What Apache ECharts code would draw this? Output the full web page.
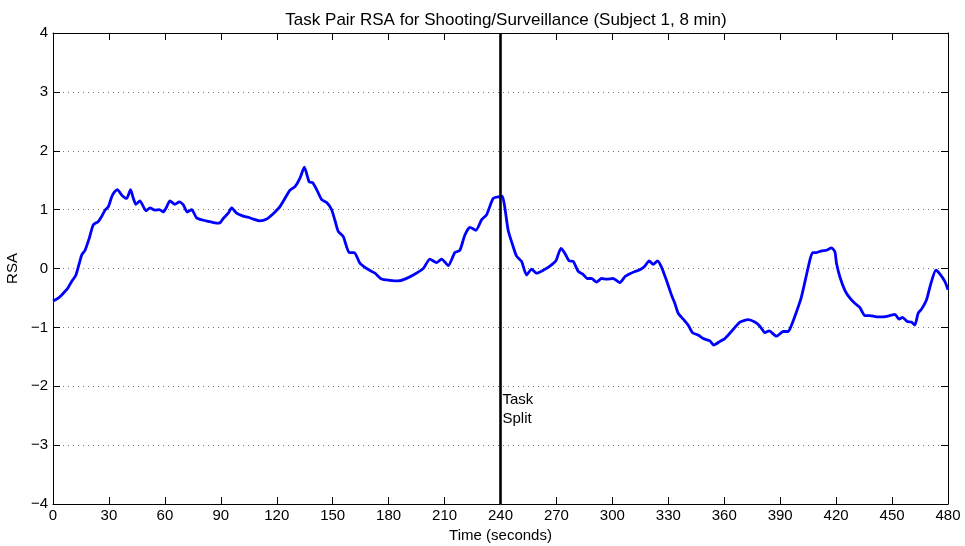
<!DOCTYPE html>
<html>
<head>
<meta charset="utf-8">
<script src="https://cdn.jsdelivr.net/npm/echarts@6/dist/echarts.min.js"></script>
<style>html,body{margin:0;padding:0;background:#fff}#c{width:965px;height:546px}</style>
</head>
<body>
<div id="c"></div>
<script>
var times = [0,2,4,6.4,8,10,12.3,15.4,17.2,19.5,21.6,24.3,26,27.9,29.7,31.5,33,34.5,36.8,39.5,41.6,43,44.5,46.6,49.9,52,54.7,57,59.2,61,62.7,65.4,67.7,69.9,72,74.4,77,80.6,83.3,86,89.2,91.3,94,95.8,98.5,102,104.7,107.4,111,114.6,118.1,121.7,127.1,129.8,132.4,134.8,137.4,139.2,141.4,144.1,146.8,149.4,151.2,153,155.7,158.9,161.6,164.6,168.2,172.7,176.2,180.7,185.1,188.7,193.2,198.6,202.1,205.7,208.4,212,215.5,218.2,220.9,223.6,226.8,229.9,232.5,236.1,239.7,241,242.4,244.1,246.8,248.6,251.3,254,256.7,259.3,262.9,266.5,269.7,272.4,274.5,276.8,279,281.7,284.3,286.5,288.8,291.5,294.2,296.9,300.4,304,306.7,309.4,312.1,314.7,317.4,319.7,321.9,324.2,326.4,329,331.7,333.5,335.3,338,340.6,343,346,348.7,352.3,354.4,357.6,360.3,363,368.4,372.8,376.4,379.1,381.8,384.1,388,391.6,394.3,396.1,398.8,401.4,404.1,405.9,407.4,409.5,412.2,414.8,417.5,419.3,420.2,422,424.7,427.3,430,432.7,435.4,438.1,441.7,445.3,448.8,451.5,453.8,455.6,458.1,460.4,462.2,464,465.8,468.5,470.6,473.5,475.6,478.3,480];
var rsa = [-0.55,-0.52,-0.47,-0.39,-0.33,-0.22,-0.11,0.23,0.31,0.52,0.74,0.80,0.88,0.99,1.05,1.22,1.30,1.34,1.25,1.19,1.34,1.20,1.09,1.15,0.98,1.03,0.99,1.00,0.96,1.05,1.15,1.09,1.13,1.08,0.96,1.00,0.86,0.82,0.80,0.78,0.77,0.85,0.94,1.03,0.94,0.89,0.87,0.84,0.81,0.84,0.93,1.05,1.33,1.39,1.53,1.72,1.47,1.46,1.34,1.17,1.12,1.00,0.82,0.63,0.54,0.27,0.27,0.09,0.0,-0.08,-0.18,-0.20,-0.21,-0.18,-0.11,0.0,0.16,0.10,0.16,0.05,0.27,0.31,0.57,0.70,0.65,0.83,0.91,1.19,1.22,1.23,1.02,0.65,0.37,0.21,0.12,-0.11,-0.01,-0.08,-0.03,0.04,0.13,0.34,0.26,0.13,0.12,-0.05,-0.10,-0.17,-0.17,-0.23,-0.17,-0.18,-0.17,-0.24,-0.14,-0.09,-0.05,-0.02,0.04,0.13,0.07,0.13,0.02,-0.20,-0.45,-0.59,-0.76,-0.86,-0.96,-1.09,-1.13,-1.19,-1.23,-1.30,-1.24,-1.19,-1.10,-0.91,-0.87,-0.91,-0.98,-1.09,-1.06,-1.15,-1.07,-1.07,-0.96,-0.73,-0.48,-0.11,0.14,0.27,0.27,0.30,0.31,0.35,0.29,0.09,-0.14,-0.37,-0.50,-0.59,-0.66,-0.80,-0.80,-0.82,-0.82,-0.80,-0.78,-0.86,-0.83,-0.90,-0.91,-0.96,-0.76,-0.69,-0.53,-0.28,-0.03,-0.09,-0.22,-0.36];
var splitTime = 240;
var splitLabel = 'Task\nSplit';
var splitLabelY = -2.4;
var titleText = 'Task Pair RSA for Shooting/Surveillance (Subject 1, 8 min)';
var xName = 'Time (seconds)';
var yName = 'RSA';

var FONT = '"Liberation Sans", Arial, Helvetica, sans-serif';
var chart = echarts.init(document.getElementById('c'), null, {renderer: 'canvas'});
var lineData = times.map(function (t, i) { return [t, rsa[i]]; });
var tickStyle = {show: true, inside: true, length: 7, lineStyle: {color: '#000', width: 1}};
var axisLine = {show: true, onZero: false, lineStyle: {color: '#000', width: 1}};
var minus = function (v) { return String(v).replace('-', '\u2212'); };

chart.setOption({
  animation: false,
  backgroundColor: '#fff',
  title: {
    text: titleText, left: 501, top: 7, textAlign: 'center',
    textStyle: {fontFamily: FONT, fontSize: 17, fontWeight: 'normal', color: '#000'}
  },
  grid: {left: 53, right: 17, top: 33, bottom: 42, outerBoundsMode: 'none', containLabel: false},
  xAxis: [{
    type: 'value', min: 0, max: 480, interval: 30, position: 'bottom',
    name: xName, nameLocation: 'middle', nameGap: 22,
    nameTextStyle: {fontFamily: FONT, fontSize: 15, color: '#000'},
    axisLine: axisLine, axisTick: tickStyle,
    axisLabel: {fontFamily: FONT, fontSize: 15, color: '#000', margin: 4},
    splitLine: {show: false}
  }, {
    type: 'value', min: 0, max: 480, interval: 30, position: 'top',
    axisLine: axisLine, axisTick: tickStyle, axisLabel: {show: false}, splitLine: {show: false}
  }],
  yAxis: [{
    type: 'value', min: -4, max: 4, interval: 1, position: 'left',
    name: yName, nameLocation: 'middle', nameGap: 30,
    nameTextStyle: {fontFamily: FONT, fontSize: 15, color: '#000'},
    axisLine: axisLine, axisTick: tickStyle,
    axisLabel: {fontFamily: FONT, fontSize: 15, color: '#000', margin: 5, formatter: minus},
    splitLine: {show: true, lineStyle: {color: '#777', width: 1, type: [1, 4]}}
  }, {
    type: 'value', min: -4, max: 4, interval: 1, position: 'right',
    axisLine: axisLine, axisTick: tickStyle, axisLabel: {show: false}, splitLine: {show: false}
  }],
  series: [{
    type: 'line', data: lineData, showSymbol: false, smooth: 0.2,
    lineStyle: {color: '#0000ff', width: 2.8}, z: 3
  }, {
    type: 'line', data: [[splitTime, -4], [splitTime, 4]], showSymbol: false,
    lineStyle: {color: '#000', width: 2.6}, z: 4
  }, {
    type: 'scatter', data: [[splitTime, splitLabelY]], symbolSize: 0,
    itemStyle: {opacity: 1},
    label: {show: true, position: 'right', distance: 2, formatter: splitLabel,
      fontFamily: FONT, fontSize: 15, lineHeight: 19, color: '#000', align: 'left'},
    z: 5
  }]
});
</script>
</body>
</html>
